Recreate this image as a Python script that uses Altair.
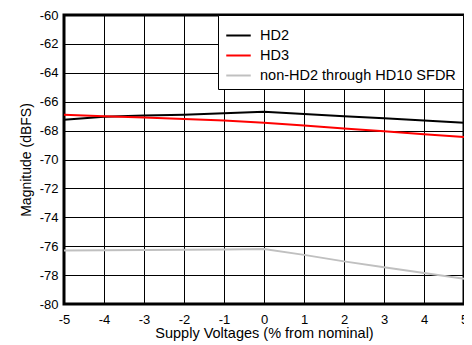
import altair as alt
import pandas as pd

x_vals = [-5, -4, -3, -2, -1, 0, 1, 2, 3, 4, 5]
hd2 = [-67.25, -67.05, -66.95, -66.9, -66.8, -66.7, -66.85, -67.0, -67.15, -67.3, -67.45]
hd3 = [-66.9, -67.0, -67.1, -67.2, -67.3, -67.45, -67.65, -67.85, -68.05, -68.25, -68.45]
sfdr = [-76.3, -76.28, -76.26, -76.24, -76.22, -76.2, -76.6, -77.05, -77.45, -77.85, -78.25]
series = ["HD2", "HD3", "non-HD2 through HD10 SFDR"]
colors = ["#000000", "#ff0000", "#c0c0c0"]

rows = []
for name, vals in zip(series, [hd2, hd3, sfdr]):
    for xv, yv in zip(x_vals, vals):
        rows.append({"x": xv, "y": yv, "series": name})
df = pd.DataFrame(rows)

font = "Liberation Sans"

chart = alt.Chart(df).mark_line(strokeWidth=2).encode(
    x=alt.X("x:Q", scale=alt.Scale(domain=[-5, 5], nice=False),
            axis=alt.Axis(values=list(range(-5, 6)), title="Supply Voltages (% from nominal)",
                          labelExpr="toString(datum.value)",
                          grid=True, gridColor="#000000", gridOpacity=1, gridWidth=1,
                          domain=False, ticks=False, labelPadding=9, labelFontSize=13,
                          labelColor="#000000", titleFontSize=14.5, titleFontWeight="normal",
                          titleColor="#000000", titlePadding=0, labelFont=font, titleFont=font,
                          labelFlush=False)),
    y=alt.Y("y:Q", scale=alt.Scale(domain=[-80, -60], nice=False),
            axis=alt.Axis(values=list(range(-80, -59, 2)), title="Magnitude (dBFS)",
                          labelExpr="toString(datum.value)",
                          grid=True, gridColor="#000000", gridOpacity=1, gridWidth=1,
                          domain=False, ticks=False, labelPadding=6, labelFontSize=13,
                          labelColor="#000000", titleFontSize=14, titleFontWeight="normal",
                          titleColor="#000000", titlePadding=6, labelFont=font, titleFont=font)),
    color=alt.Color("series:N", scale=alt.Scale(domain=series, range=colors),
                    legend=alt.Legend(title=None, orient="none", legendX=154, legendY=0,
                                      symbolType="stroke", symbolSize=600, symbolStrokeWidth=2,
                                      labelFontSize=14.5, labelFont=font, labelColor="#000000",
                                      labelLimit=0,
                                      strokeColor="#000000", fillColor="#ffffff",
                                      padding=7, rowPadding=-4, labelOffset=8)),
).properties(width=400, height=289).configure_view(
    stroke="#000000", strokeWidth=3
).properties(autosize="none", padding={"left": 56, "top": 7, "right": 0, "bottom": 38}, background="#ffffff")

chart.save("out.html", embed_options={"renderer": "svg", "actions": False})
